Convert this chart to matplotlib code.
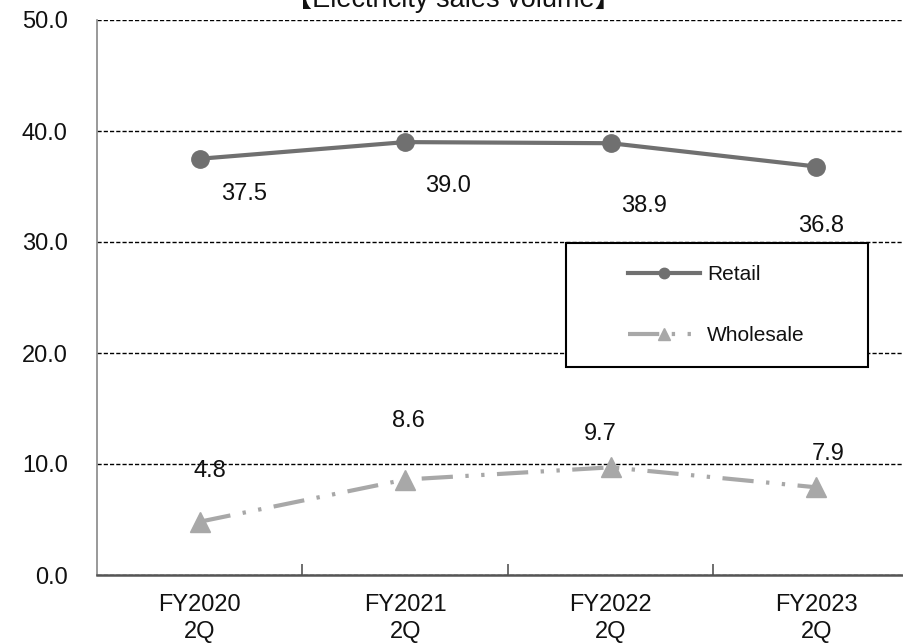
import matplotlib
matplotlib.use("Agg")
import matplotlib.pyplot as plt
from matplotlib.patches import Rectangle

plt.rcParams["font.family"] = ["Liberation Sans", "Noto Sans CJK JP", "DejaVu Sans"]

# data
categories = ["FY2020\n2Q", "FY2021\n2Q", "FY2022\n2Q", "FY2023\n2Q"]
retail = [37.5, 39.0, 38.9, 36.8]
wholesale = [4.8, 8.6, 9.7, 7.9]
yticks = [0, 10, 20, 30, 40, 50]

# label offsets (pixels) from each point
retail_off = [(44, -35), (43, -44), (33, -63), (5, -59)]
wholesale_off = [(10, 51), (3, 59), (-10, 33), (12, 33)]

W, H = 904, 644
fig = plt.figure(figsize=(W / 100, H / 100), dpi=100)
ax = fig.add_axes([97 / W, 1 - 575 / H, 822 / W, 555 / H])

x = list(range(len(categories)))

ax.plot(x, retail, color="#707070", lw=3, marker="o", markersize=12.5,
        label="Retail", zorder=3, clip_on=False)
ax.plot(x, wholesale, color="#a8a8a8", lw=3, marker="^", markersize=14,
        linestyle=(0, (7.5, 3, 0.8, 3, 0.8, 3)), label="Wholesale", zorder=3, clip_on=False)

for xi, v, (dx, dy) in zip(x, retail, retail_off):
    ax.annotate(f"{v:.1f}", (xi, v), xytext=(dx, dy), textcoords="offset pixels",
                ha="center", va="center", fontsize=17, color="#111111")
for xi, v, (dx, dy) in zip(x, wholesale, wholesale_off):
    ax.annotate(f"{v:.1f}", (xi, v), xytext=(dx, dy), textcoords="offset pixels",
                ha="center", va="center", fontsize=17, color="#111111")

ax.set_xlim(-0.5, len(categories) - 0.5)
ax.set_ylim(0, 50)
ax.set_yticks(yticks)
ax.set_yticklabels([f"{t:.1f}" for t in yticks])
ax.set_xticks(x)
ax.set_xticklabels(categories, linespacing=1.25)
ax.set_xticks([i + 0.5 for i in x[:-1]], minor=True)

ax.tick_params(axis="y", length=0, pad=21, labelsize=17, labelcolor="#111111")
ax.tick_params(axis="x", which="major", length=0, pad=14, labelsize=17, labelcolor="#111111")
ax.tick_params(axis="x", which="minor", direction="in", length=8, width=1.2, color="#555555")

ax.yaxis.grid(True, color="black", lw=1.0, linestyle=(0, (3, 1.5)))
ax.set_axisbelow(True)
for s in ["top", "right"]:
    ax.spines[s].set_visible(False)
ax.spines["left"].set_color("#888888")
ax.spines["left"].set_linewidth(1.2)
ax.spines["bottom"].set_color("#555555")
ax.spines["bottom"].set_linewidth(1.8)

# legend box
box = Rectangle((566 / W, 1 - 367 / H), 302 / W, 124 / H, transform=fig.transFigure,
                facecolor="white", edgecolor="black", lw=1.5, zorder=2)
ax.add_artist(box)
box.set_clip_on(False)
leg = ax.legend(loc="center left", bbox_to_anchor=(628 / W, 1 - 305 / H),
                bbox_transform=fig.transFigure, frameon=False, fontsize=15,
                handlelength=3.45, handletextpad=0.35, labelspacing=2.0,
                borderpad=0, borderaxespad=0, markerscale=0.6)
leg.set_zorder(4)
for t in leg.get_texts():
    t.set_color("#111111")

fig.text(453 / W, 1 - 7 / H, "【Electricity sales volume】", ha="center", va="baseline",
         fontsize=19.5, color="#111111")

fig.savefig("out.png", dpi=100, facecolor="white")
